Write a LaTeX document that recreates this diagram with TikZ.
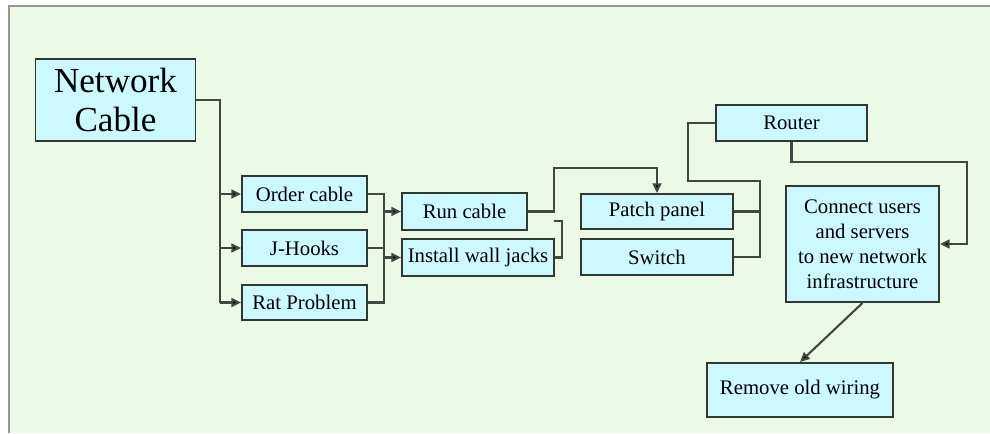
\documentclass[tikz,border=0pt]{standalone}
\usepackage{fontspec}
\setmainfont{Liberation Serif}
\usepackage{xcolor}
\usetikzlibrary{arrows.meta, positioning}
\definecolor{boxCyan}{RGB}{204,248,255}
\definecolor{boxEdge}{RGB}{50,55,50}
\definecolor{wireGray}{RGB}{65,72,65}
\definecolor{paperGreen}{RGB}{236,250,229}
\definecolor{frameGray}{RGB}{150,150,150}

\begin{document}
\begin{tikzpicture}[x=0.02cm, y=-0.02cm,
task/.style={rectangle, draw=boxEdge, line width=1.1pt, fill=boxCyan,
inner sep=0pt, align=center, font=\fontsize{11.8}{14.2}\selectfont},
line/.style={draw=wireGray, line width=1.2pt},
arrow/.style={line, -{Triangle[length=5.5pt, width=5pt, fill=black]}}]

\useasboundingbox (0,0) rectangle (990,433);
\fill[white] (0,0) rectangle (990,433);
\fill[paperGreen] (9,7) rectangle (990,433);
\draw[frameGray, line width=1.2pt] (9,433) -- (9,6) -- (990,6);

\node[task, minimum width=3.2cm, minimum height=1.64cm,
      font=\fontsize{20}{22.7}\selectfont] (net) at (115.5,100) {Network\\Cable};
\node[task, minimum width=2.5cm, minimum height=0.72cm] (order) at (304.5,194) {Order cable};
\node[task, minimum width=2.5cm, minimum height=0.72cm] (jhooks) at (304.5,248) {J-Hooks};
\node[task, minimum width=2.5cm, minimum height=0.7cm] (rat) at (304.5,302.5) {Rat Problem};
\node[task, minimum width=2.5cm, minimum height=0.74cm] (run) at (464.5,211.5) {Run cable};
\node[task, minimum width=3.04cm, minimum height=0.74cm] (jacks) at (478,257.5) {Install wall jacks};
\node[task, minimum width=3.04cm, minimum height=0.7cm] (patch) at (657,211.5) {Patch panel};
\node[task, minimum width=3.04cm, minimum height=0.72cm] (switch) at (657,257) {Switch};
\node[task, minimum width=3.02cm, minimum height=0.72cm] (router) at (791.5,123) {Router};
\node[task, minimum width=3.06cm, minimum height=2.32cm] (connect) at (862.5,244)
    {Connect users\\and servers\\to new network\\infrastructure};
\node[task, minimum width=3.72cm, minimum height=1.08cm] (remove) at (800,390) {Remove old wiring};

\coordinate (ja) at (220,100);
\coordinate (jb) at (384,194);
\coordinate (jc) at (554,168);
\coordinate (jd) at (760,181);
\coordinate (je) at (688,123);
\coordinate (jf) at (562,221);
\coordinate (rc) at (967,162);

\draw[line] (net.east) -| (ja |- rat);
\draw[arrow] (ja |- order) -- (order.west);
\draw[arrow] (ja |- jhooks) -- (jhooks.west);
\draw[arrow] (ja |- rat) -- (rat.west);

\draw[line] (order.east) -| (jb |- rat) -- (rat.east);
\draw[line] (jhooks.east) -- (jb |- jhooks);
\draw[arrow] (jb |- run) -- (run.west);
\draw[arrow] (jb |- jacks) -- (jacks.west);

\draw[arrow] (run.east) -| (jc) -| (patch.north);
\draw[line] (jacks.east) -| (jf) -- (jc |- jf);

\draw[line] (patch.east) -- (jd |- patch);
\draw[line] (switch.east) -| (jd) -| (je) -- (router.west);

\draw[arrow] (router.south) |- (rc) |- (connect.east);
\draw[arrow] (connect.south) -- (remove.north);
\end{tikzpicture}
\end{document}
